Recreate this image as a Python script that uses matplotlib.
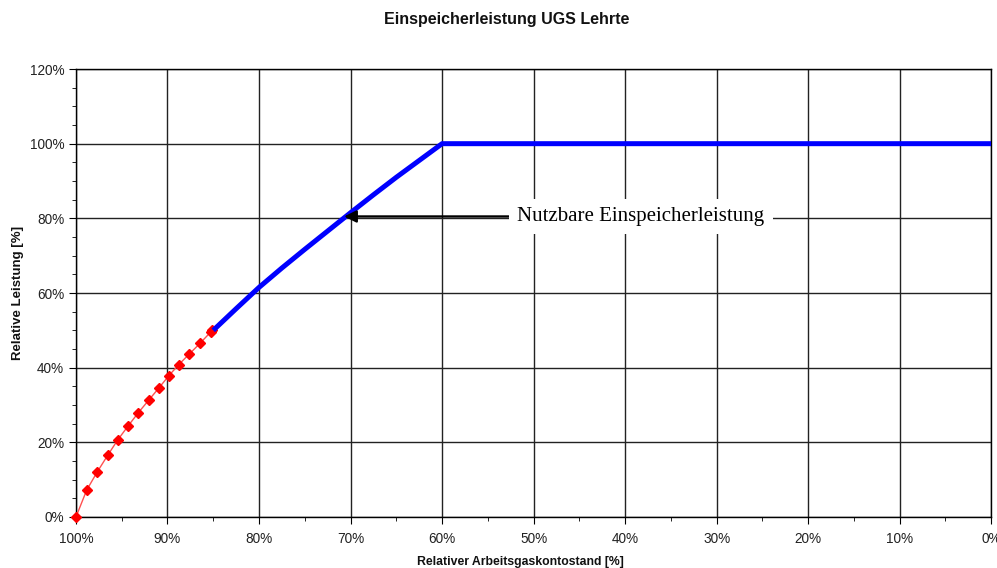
import matplotlib
matplotlib.use('Agg')
import matplotlib.pyplot as plt
from matplotlib.ticker import MultipleLocator, FuncFormatter

plt.rcParams['font.family'] = ['Liberation Sans', 'DejaVu Sans']

# red part: low working gas level (x = relative Arbeitsgaskontostand, y = relative Leistung)
red_x = [100, 98.83, 97.67, 96.54, 95.45, 94.3, 93.2, 92.05, 90.96, 89.87, 88.78, 87.6, 86.45, 85.3, 85.1]
red_y = [0, 7.2, 12.1, 16.5, 20.6, 24.4, 27.9, 31.3, 34.5, 37.8, 40.8, 43.7, 46.5, 49.5, 50.0]

# blue part: usable injection capacity
blue_x = [85, 82.5, 80, 77.5, 75, 72.5, 70, 67.5, 65, 62.5, 60, 0]
blue_y = [50, 55.8, 61.5, 66.7, 71.7, 76.6, 81.5, 86.3, 91.0, 95.5, 100, 100]

title = 'Einspeicherleistung UGS Lehrte'
xlabel = 'Relativer Arbeitsgaskontostand [%]'
ylabel = 'Relative Leistung [%]'
note = 'Nutzbare Einspeicherleistung'

fig = plt.figure(figsize=(9.97, 5.68), dpi=100)
ax = fig.add_axes([0.0762, 0.0898, 0.918, 0.7887])

ax.plot(red_x, red_y, color='#ff5050', lw=1, marker='D', markersize=5.5,
        markerfacecolor='red', markeredgecolor='red', zorder=3, clip_on=False)
ax.plot(blue_x, blue_y, color='blue', lw=3.6, solid_capstyle='butt',
        solid_joinstyle='round', zorder=4)

ax.set_xlim(100, 0)
ax.set_ylim(0, 120)
ax.xaxis.set_major_locator(MultipleLocator(10))
ax.xaxis.set_minor_locator(MultipleLocator(5))
ax.yaxis.set_major_locator(MultipleLocator(20))
ax.yaxis.set_minor_locator(MultipleLocator(5))
pct = FuncFormatter(lambda v, p: '%d%%' % round(v))
ax.xaxis.set_major_formatter(pct)
ax.yaxis.set_major_formatter(pct)
ax.tick_params(which='both', direction='out', labelsize=9.8, color='black',
               labelcolor='#222222')
ax.tick_params(which='major', length=5)
ax.tick_params(which='minor', length=3)
ax.tick_params(axis='x', pad=6)

ax.grid(True, which='major', color='#222222', lw=1)
for s in ax.spines.values():
    s.set_color('black')
    s.set_linewidth(1)

ax.annotate(note, xy=(70.7, 80.5), xytext=(51.8, 80.5),
            fontsize=15, family='Liberation Serif', va='center', ha='left',
            bbox=dict(boxstyle='square,pad=0.4', fc='white', ec='none'),
            arrowprops=dict(arrowstyle='-|>', color='black', lw=1.7,
                            mutation_scale=18, shrinkA=0, shrinkB=0),
            zorder=5)

fig.text(0.5085, 0.9665, title, ha='center', va='center', fontsize=11.5,
         fontweight='bold', color='#111111')
ax.set_xlabel(xlabel, fontsize=8.8, fontweight='bold', color='#111111')
ax.xaxis.label.set_va('center')
ax.xaxis.set_label_coords(0.4852, -0.1004)
ax.set_ylabel(ylabel, fontsize=9.5, fontweight='bold', color='#111111')
ax.yaxis.label.set_va('center')
ax.yaxis.set_label_coords(-0.0634, 0.5)

fig.savefig('out.png', dpi=100)
